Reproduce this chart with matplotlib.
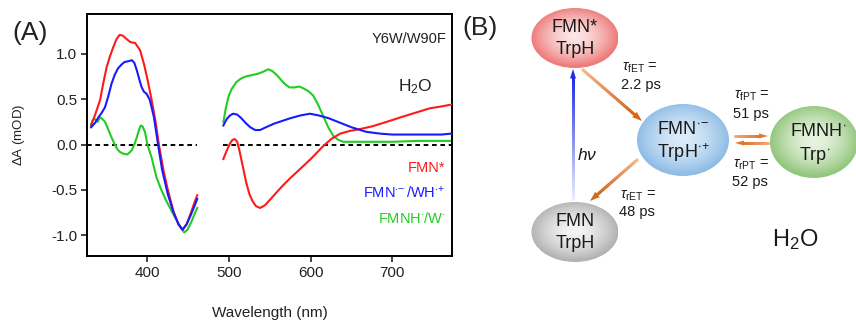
import numpy as np
import matplotlib
matplotlib.use("Agg")
import matplotlib.pyplot as plt
from matplotlib.patches import Ellipse, Polygon
from matplotlib.collections import LineCollection
from matplotlib.colors import to_rgb

plt.rcParams['font.family'] = ['Liberation Sans', 'DejaVu Sans']
plt.rcParams['mathtext.fontset'] = 'custom'
plt.rcParams['mathtext.rm'] = 'Liberation Sans'
plt.rcParams['mathtext.it'] = 'Liberation Sans:italic'
plt.rcParams['mathtext.bf'] = 'Liberation Sans:bold'

# ---------------- data ----------------
red_left_wl = [331, 336, 342, 346, 350, 354, 358, 362, 366, 370, 375, 379, 385, 391, 396, 400, 405, 410, 414,
               420, 425, 432, 438, 443, 448, 453, 458, 461]
red_left_v = [0.21, 0.33, 0.49, 0.68, 0.85, 0.97, 1.07, 1.16, 1.21, 1.20, 1.16, 1.13, 1.12, 1.04, 0.88, 0.72,
              0.50, 0.25, 0.0, -0.30, -0.50, -0.74, -0.88, -0.94, -0.88, -0.76, -0.63, -0.56]
blue_left_wl = [331, 336, 340, 344, 348, 352, 356, 360, 364, 368, 372, 377, 381, 384, 387, 390, 393, 396, 399,
                403, 408, 413, 418, 425, 432, 438, 443, 448, 453, 458, 461]
blue_left_v = [0.19, 0.24, 0.30, 0.35, 0.41, 0.53, 0.67, 0.77, 0.84, 0.88, 0.91, 0.92, 0.93, 0.90, 0.82, 0.72,
               0.63, 0.58, 0.56, 0.49, 0.30, 0.0, -0.28, -0.55, -0.75, -0.88, -0.94, -0.88, -0.78, -0.67, -0.60]
green_left_wl = [331, 333, 336, 339, 342, 345, 348, 351, 354, 357, 360, 363, 366, 370, 375, 378, 381, 384, 387,
                 390, 392, 394, 397, 400, 405, 411, 417, 423, 430, 436, 441, 445, 449, 454, 458, 461]
green_left_v = [0.22, 0.27, 0.28, 0.25, 0.30, 0.28, 0.25, 0.19, 0.12, 0.06, 0.0, -0.05, -0.08, -0.10, -0.11,
                -0.09, -0.06, 0.0, 0.08, 0.17, 0.21, 0.20, 0.14, 0.0, -0.14, -0.36, -0.50, -0.62, -0.74, -0.84,
                -0.92, -0.97, -0.94, -0.85, -0.76, -0.70]

red_right_wl = [493, 497, 501, 504, 507, 510, 513, 517, 521, 525, 529, 533, 538, 544, 550, 556, 565, 575,
                587, 600, 615, 625, 636, 648, 660, 675, 693, 710, 728, 746, 760, 772]
red_right_v = [-0.16, -0.07, 0.01, 0.05, 0.06, 0.03, -0.08, -0.25, -0.42, -0.55, -0.63, -0.68, -0.70, -0.67,
               -0.61, -0.55, -0.46, -0.37, -0.27, -0.16, -0.02, 0.06, 0.12, 0.15, 0.17, 0.20, 0.25, 0.30,
               0.35, 0.40, 0.42, 0.44]
blue_right_wl = [493, 497, 501, 505, 510, 515, 520, 526, 532, 538, 545, 555, 565, 575, 587, 599, 610, 622,
                 636, 650, 668, 685, 700, 720, 740, 760, 772]
blue_right_v = [0.21, 0.28, 0.32, 0.34, 0.33, 0.29, 0.24, 0.19, 0.16, 0.16, 0.19, 0.23, 0.26, 0.29, 0.32,
                0.34, 0.32, 0.29, 0.24, 0.19, 0.14, 0.12, 0.11, 0.11, 0.11, 0.11, 0.12]
green_right_wl = [493, 496, 499, 503, 509, 515, 520, 525, 530, 535, 541, 548, 553, 558, 562, 568, 574, 580,
                  586, 591, 597, 603, 609, 616, 622, 628, 634, 640, 650, 670, 700, 730, 760, 772]
green_right_v = [0.25, 0.40, 0.52, 0.61, 0.69, 0.73, 0.75, 0.76, 0.77, 0.78, 0.80, 0.83, 0.81, 0.77, 0.73,
                 0.67, 0.63, 0.63, 0.64, 0.62, 0.59, 0.54, 0.44, 0.30, 0.18, 0.09, 0.05, 0.03, 0.03, 0.03,
                 0.03, 0.04, 0.04, 0.04]

legend_labels = ['FMN*', r'FMN$^{\bullet\!-}$/WH$^{\bullet\!+}$', r'FMNH$^{\bullet}$/W$^{\bullet}$']
series_colors = ['#ff1a1a', '#1a1aff', '#22cc22']
xticks = [400, 500, 600, 700]
yticks = [-1.0, -0.5, 0.0, 0.5, 1.0]

# ---------------- figure ----------------
W, H = 856, 321
fig = plt.figure(figsize=(W / 100, H / 100), dpi=100)

ax = fig.add_axes([87 / W, (H - 256) / H, (452 - 87) / W, (256 - 14) / H])
ax.set_xlim(326, 773)
ax.set_ylim(-1.23, 1.44)

lw = 1.5
ax.plot([326, 461], [0, 0], ls=(0, (2.4, 1.9)), color='black', lw=1.4, zorder=1)
ax.plot([493, 773], [0, 0], ls=(0, (2.4, 1.9)), color='black', lw=1.4, zorder=1)
ax.plot(green_left_wl, green_left_v, color=series_colors[2], lw=lw, zorder=2)
ax.plot(green_right_wl, green_right_v, color=series_colors[2], lw=lw, zorder=2)
ax.plot(red_left_wl, red_left_v, color=series_colors[0], lw=lw, zorder=3)
ax.plot(red_right_wl, red_right_v, color=series_colors[0], lw=lw, zorder=3)
ax.plot(blue_left_wl, blue_left_v, color=series_colors[1], lw=lw, zorder=4)
ax.plot(blue_right_wl, blue_right_v, color=series_colors[1], lw=lw, zorder=4)

ax.set_xticks(xticks)
ax.set_yticks(yticks)
ax.set_yticklabels(['%.1f' % t for t in yticks])
for s in ax.spines.values():
    s.set_linewidth(1.4)
ax.tick_params(direction='out', length=4, width=1.2, labelsize=11, colors='#222222', pad=3)
ax.set_xlabel('Wavelength (nm)', fontsize=11, color='#222222')
ax.xaxis.set_label_coords(0.5, -0.205)
ax.set_ylabel(r'$\Delta$A (mOD)', fontsize=9.5, color='#222222')
ax.yaxis.set_label_coords(-0.165, 0.5)

ax.text(0.984, 0.897, 'Y6W/W90F', transform=ax.transAxes, ha='right', va='center', fontsize=10.5, color='#222222')
ax.text(0.948, 0.698, r'H$_2$O', transform=ax.transAxes, ha='right', va='center', fontsize=12.5, color='#222222')
for lab, col, yy in zip(legend_labels, series_colors, [0.364, 0.26, 0.153]):
    ax.text(0.982, yy, lab, transform=ax.transAxes, ha='right', va='center', fontsize=10.5, color=col)

fig.text(30 / W, 1 - 33 / H, '(A)', ha='center', va='center', fontsize=19, color='#222222')

# ---------------- panel B (scheme) ----------------
bx = fig.add_axes([0, 0, 1, 1], facecolor='none')
bx.set_xlim(0, W)
bx.set_ylim(H, 0)
bx.axis('off')


def grad_ellipse(cx, cy, w, h, c_in, c_out):
    e = Ellipse((cx, cy), w, h, facecolor='none', edgecolor='none')
    bx.add_patch(e)
    n = 200
    xs = np.linspace(-1, 1, n)
    X, Y = np.meshgrid(xs, xs)
    r = np.clip(np.sqrt(X ** 2 + (Y + 0.05) ** 2), 0, 1) ** 1.6
    ci, co = np.array(to_rgb(c_in)), np.array(to_rgb(c_out))
    img = ci[None, None, :] * (1 - r[..., None]) + co[None, None, :] * r[..., None]
    im = bx.imshow(img, extent=(cx - w / 2, cx + w / 2, cy + h / 2, cy - h / 2), origin='upper',
                   interpolation='bilinear', zorder=1, aspect='auto')
    im.set_clip_path(e)


grad_ellipse(575, 38, 87, 60, '#fde6e6', '#ee7a7a')
grad_ellipse(683, 140, 92, 72, '#dcecf9', '#8fbde6')
grad_ellipse(814, 142, 88, 72, '#e9f4e2', '#92c67c')
grad_ellipse(575, 232, 87, 60, '#f5f5f5', '#b3b3b3')


def grad_arrow(p0, p1, c0, c1, lw=2.0, head_len=9, head_w=7, n=30):
    p0, p1 = np.array(p0, float), np.array(p1, float)
    d = p1 - p0
    L = np.hypot(*d)
    u = d / L
    nvec = np.array([-u[1], u[0]])
    base = p1 - u * head_len
    pts = np.linspace(0, 1, n + 1)[:, None] * (base - p0) + p0
    segs = np.stack([pts[:-1], pts[1:]], axis=1)
    a0, a1 = np.array(to_rgb(c0)), np.array(to_rgb(c1))
    t = np.linspace(0, 1, n)[:, None]
    cols = a0 * (1 - t) + a1 * t
    bx.add_collection(LineCollection(segs, colors=cols, linewidths=lw, zorder=3, capstyle='projecting'))
    tri = [p1, base + nvec * head_w / 2, base - nvec * head_w / 2]
    bx.add_patch(Polygon(tri, closed=True, facecolor=c1, edgecolor='none', zorder=3))


def vgrad_arrow(x, y0, y1, c0, c1, width=2.4, head_len=9, head_w=6):
    # vertical arrow from y0 (bottom, light) to y1 (top, dark) with smooth gradient shaft
    base = y1 + head_len
    n = 100
    t = np.linspace(0, 1, n)[:, None]  # 0 at top (base) -> 1 at bottom (y0)
    a0, a1 = np.array(to_rgb(c0)), np.array(to_rgb(c1))
    cols = a1 * (1 - t) + a0 * t
    img = np.repeat(cols[:, None, :], 2, axis=1)
    bx.imshow(img, extent=(x - width / 2, x + width / 2, y0, base), origin='upper',
              interpolation='bilinear', aspect='auto', zorder=3)
    bx.add_patch(Polygon([(x, y1), (x - head_w / 2, base + 0.5), (x + head_w / 2, base + 0.5)],
                         closed=True, facecolor=c1, edgecolor='none', zorder=3))


vgrad_arrow(573, 201, 69, '#eef0fd', '#2030e0', width=2.4, head_len=9, head_w=6)
grad_arrow((583, 70), (642, 121), '#f6b88a', '#d2691e', lw=2.0, head_len=10, head_w=7)
grad_arrow((637, 160), (590, 201), '#f6b88a', '#d2691e', lw=2.0, head_len=10, head_w=7)
grad_arrow((735, 136), (768, 136), '#f4a872', '#e07a30', lw=1.8, head_len=9, head_w=5)
grad_arrow((768, 143), (735, 143), '#f4a872', '#e07a30', lw=1.8, head_len=9, head_w=5)
bx.set_xlim(0, W)
bx.set_ylim(H, 0)

tc = '#1a1a1a'
fs_sp = 13
bx.text(575, 27, 'FMN*', ha='center', va='center', fontsize=fs_sp, color=tc, zorder=5)
bx.text(575, 50, 'TrpH', ha='center', va='center', fontsize=fs_sp, color=tc, zorder=5)
bx.text(683, 129, r'FMN$^{\bullet\!-}$', ha='center', va='center', fontsize=fs_sp, color=tc, zorder=5)
bx.text(683, 153, r'TrpH$^{\bullet\!+}$', ha='center', va='center', fontsize=fs_sp, color=tc, zorder=5)
bx.text(818, 131, r'FMNH$^{\bullet}$', ha='center', va='center', fontsize=fs_sp, color=tc, zorder=5)
bx.text(815, 155, r'Trp$^{\bullet}$', ha='center', va='center', fontsize=fs_sp, color=tc, zorder=5)
bx.text(575, 221, 'FMN', ha='center', va='center', fontsize=fs_sp, color=tc, zorder=5)
bx.text(575, 244, 'TrpH', ha='center', va='center', fontsize=fs_sp, color=tc, zorder=5)

fs_t = 10.5
bx.text(622, 68, r'$\tau_{\rm fET}$ =', ha='left', va='center', fontsize=fs_t, color=tc)
bx.text(621, 85, '2.2 ps', ha='left', va='center', fontsize=fs_t, color=tc)
bx.text(734, 96, r'$\tau_{\rm fPT}$ =', ha='left', va='center', fontsize=fs_t, color=tc)
bx.text(733, 114, '51 ps', ha='left', va='center', fontsize=fs_t, color=tc)
bx.text(733, 165, r'$\tau_{\rm rPT}$ =', ha='left', va='center', fontsize=fs_t, color=tc)
bx.text(732, 182, '52 ps', ha='left', va='center', fontsize=fs_t, color=tc)
bx.text(620, 196, r'$\tau_{\rm rET}$ =', ha='left', va='center', fontsize=fs_t, color=tc)
bx.text(619, 212, '48 ps', ha='left', va='center', fontsize=fs_t, color=tc)
bx.text(587, 155, r'$h\nu$', ha='center', va='center', fontsize=12.5, color=tc)
bx.text(795, 240, r'H$_2$O', ha='center', va='center', fontsize=17, color=tc)
bx.text(480, 28, '(B)', ha='center', va='center', fontsize=19, color='#222222')

fig.savefig('out.png', dpi=100)
